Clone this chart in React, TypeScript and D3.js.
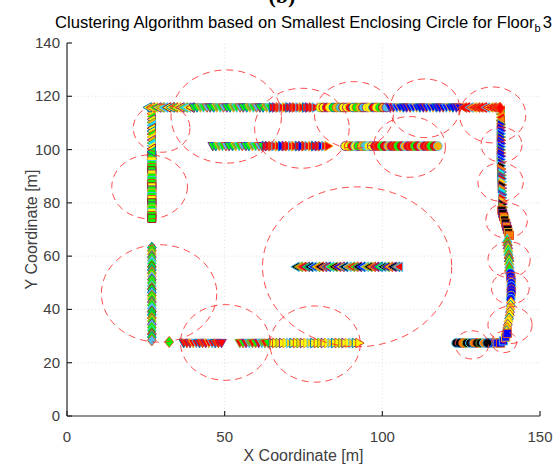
import React from 'react';
import * as d3 from 'd3';

const W = 559;
const H = 468;

// ---------- axes ----------
const xDomain = [0, 150];
const yDomain = [0, 140];
const xTicks = [0, 50, 100, 150];
const yTicks = [0, 20, 40, 60, 80, 100, 120, 140];

// ---------- data (metres) ----------
const yTopRow = 115.8;
const ySecondRow = 101.3;
const yMiddleRow = 56.0;
const yBottomRow = 27.4;
const xLeftCol = 26.9;
const xRightTop = 137.6;

// top-left corner '<' cluster
const tlTopX = [25.6, 26.6, 27.6, 28.7, 29.7, 30.8, 31.8, 32.9, 33.9, 35.0, 36.0, 37.1, 38.1, 39.2];
const tlColY = [114.6, 113.5, 112.4, 111.3, 110.2, 109.1, 108.0, 106.9, 105.8, 104.7, 103.6, 102.5, 101.4, 100.3, 99.2];
// green 'v' cluster
const gvTopX = [40.2, 41.2, 42.3, 43.3, 44.4, 45.4, 46.5, 47.5, 48.6, 49.6, 50.7, 51.7, 52.8, 53.8, 54.9, 55.9, 57.0, 58.0, 59.1, 60.1, 61.2, 62.2, 63.3, 64.3];
const gvSecondX = [46.2, 47.2, 48.3, 49.3, 50.4, 51.4, 52.5, 53.5, 54.6, 55.6, 56.7, 57.7, 58.8, 59.8, 60.9, 61.9];
// red '>' cluster
const rtTopX = [65.3, 66.3, 67.4, 68.4, 69.5, 70.5, 71.6, 72.6, 73.7, 74.7, 75.8, 76.8, 77.9, 78.9];
const rtSecondX = [63.0, 64.0, 65.1, 66.1, 67.2, 68.2, 69.3, 70.3, 71.4, 72.4, 73.5, 74.5, 75.6, 76.6, 77.7, 78.7, 79.8, 80.8, 81.9, 82.9];
// circle clusters
const ocTopX = [80.3, 81.3, 82.4, 83.4, 84.5, 85.5, 86.6, 87.6, 88.7, 89.7, 90.8, 91.8, 92.9, 93.9, 95.0, 96.0, 97.1, 98.1, 99.2, 100.2, 101.3];
const ocSecondX = [88.2, 89.3, 90.3, 91.4, 92.4, 93.5, 94.5, 95.6, 96.6];
const ocRedX = [97.7, 98.7, 99.8, 100.8, 101.9, 102.9, 104.0, 105.0, 106.1, 107.1, 108.2, 109.2, 110.3, 111.3, 112.4, 113.4, 114.5, 115.5, 116.6, 117.6];
// blue 'v' cluster
const bvTopX = [102.5, 103.5, 104.6, 105.6, 106.7, 107.7, 108.8, 109.8, 110.9, 111.9, 113.0, 114.0, 115.1, 116.1, 117.2, 118.2, 119.3, 120.3, 121.4, 122.4, 123.5, 124.5];
// red '<' top right
const rlTopX = [125.6, 126.6, 127.7, 128.7, 129.8, 130.8, 131.9, 132.9, 134.0, 135.0, 136.1];
const rlColY = [114.5, 113.3, 112.1, 110.9];
const cornerX = [137.4];
const cornerY = [115.6];
// right column
const rbColY = [109.5, 108.3, 107.1, 105.9, 104.7, 103.5, 102.3, 101.1, 99.9, 98.7, 97.5, 96.3, 95.1];
const rmColY = [93.9, 92.7, 91.5, 90.3, 89.1, 87.9, 86.7, 85.5, 84.3, 83.1, 81.9, 80.7, 79.5, 78.3];
const rmColX = [137.7, 137.7, 137.8, 137.8, 137.8, 137.9, 137.9, 137.9, 138.0, 138.0, 138.0, 138.1, 138.1, 138.2];
const ksY = [77.2, 76.0, 74.8, 73.6, 72.4, 71.2, 70.0, 68.8, 67.8];
const ksX = [137.9, 138.2, 138.5, 138.8, 139.1, 139.4, 139.7, 140.0, 140.3];
const gtY = [66.5, 65.3, 64.1, 62.9, 61.7, 60.5, 59.3, 58.1, 56.9, 55.7];
const gtX = [139.6, 139.7, 139.8, 139.9, 140.0, 140.1, 140.2, 140.2, 140.3, 140.3];
const bcY = [53.6, 52.4, 51.2, 50.0, 48.8, 47.6, 46.4, 45.2, 44.0];
const bcX = [140.6, 140.7, 140.8, 140.9, 140.9, 140.9, 140.9, 140.8, 140.7];
const ydY = [42.6, 41.4, 40.2, 39.0, 37.8, 36.6, 35.4, 34.2, 33.0, 31.8];
const ydX = [140.8, 140.7, 140.6, 140.5, 140.4, 140.2, 140.0, 139.8, 139.6, 139.4];
const bsX = [134.2, 135.3, 136.4, 137.5, 138.4, 139.1, 139.6];
const bsY = [27.4, 27.4, 27.4, 27.4, 28.2, 29.6, 31.0];
const kcX = [123.4, 124.5, 125.6, 126.7, 127.8, 128.9, 130.0, 131.1, 132.2, 133.3];
// left column
const lsY = [98.0, 96.8, 95.6, 94.4, 93.2, 92.0, 90.8, 89.6, 88.4, 87.2, 86.0, 84.8, 83.6, 82.4, 81.2, 80.0, 78.8, 77.6, 76.4, 75.2, 74.2];
const ldY = [63.2, 62.0, 60.8, 59.6, 58.4, 57.2, 56.0, 54.8, 53.6, 52.4, 51.2, 50.0, 48.8, 47.6, 46.4, 45.2, 44.0, 42.8, 41.6, 40.4, 39.2, 38.0, 36.8, 35.6, 34.4, 33.2, 32.0, 30.8, 29.6, 28.4];
const loneDiamondX = [32.4];
const loneDiamondY = [27.8];
// bottom row
const brvX = [37.0, 38.0, 39.0, 40.0, 41.0, 42.0, 43.0, 44.0, 45.0, 46.0, 47.0, 48.0, 49.0];
const brv2X = [54.8, 55.8, 56.8, 57.8, 58.8, 59.8, 60.8, 61.8, 62.8, 63.8];
const byX = [65.2, 66.3, 67.4, 68.5, 69.6, 70.7, 71.8, 72.9, 74.0, 75.1, 76.2, 77.3, 78.4, 79.5, 80.6, 81.7, 82.8, 83.9, 85.0, 86.1, 87.2, 88.3, 89.4, 90.5, 91.6, 92.7];
// middle row
const mdX = [72.5, 73.6, 74.7, 75.8, 76.9, 78.0, 79.1, 80.2, 81.3, 82.4, 83.5, 84.6, 85.7, 86.8, 87.9, 89.0, 90.1, 91.2, 92.3, 93.4, 94.5, 95.6, 96.7, 97.8, 98.9, 100.0, 101.1, 102.2, 103.3, 104.4, 105.3];

// smallest enclosing circles: centre x, centre y, radius
const circleCX = [30.0, 26.2, 29.2, 50.2, 78.7, 50.5, 74.5, 91.0, 113.5, 108.6, 135.0, 137.8, 137.5, 139.4, 140.2, 140.6, 140.5, 138.6, 128.4, 92.0];
const circleCY = [108.0, 86.0, 46.0, 27.6, 27.0, 112.4, 108.0, 113.0, 115.5, 101.0, 113.0, 101.8, 87.8, 73.4, 58.7, 48.0, 34.2, 27.8, 26.7, 56.0];
const circleR = [9.0, 12.0, 18.3, 14.2, 14.3, 17.5, 15.0, 12.5, 11.0, 11.4, 10.5, 6.5, 7.2, 6.6, 6.7, 6.0, 7.0, 4.0, 5.3, 30.0];

// ---------- colours ----------
const EDGES = ['#0072bd', '#d95319', '#edb120', '#7e2f8e', '#77ac30', '#4dbeee', '#a2142f'];
const faceYellowMix = ['#ffff00', '#ffff00', '#00ff00', '#ffff00', '#ffb000', '#00e5ff'];
const faceGreen = ['#00ff00', '#00ff00', '#77ac30', '#00ff00', '#4dbeee'];
const faceRed = ['#ff0000', '#ff0000', '#ff2000', '#ff0000'];
const faceCircleMix = ['#ffff00', '#ffff00', '#ff0000', '#ffff00', '#00ff00', '#ffb000', '#4dbeee'];
const faceBlue = ['#0000ff', '#0000ff', '#1010ff'];
const faceMulti = ['#000000', '#ff8000', '#00e5ff', '#7e2f8e', '#ff0000', '#ffd000'];
const faceBlack = ['#000000', '#000000', '#ff8000'];
const faceYellow = ['#ffff00', '#ffff00', '#ffd000'];
const faceRedGreen = ['#ff0000', '#00ff00', '#ff0000', '#77ac30'];
const faceMiddle = ['#000000', '#ff8000', '#ff0000', '#00ff00', '#000000', '#0000ff', '#ffb000'];

type Pt = [number, number];
const row = (xs: number[], y: number): Pt[] => xs.map((v) => [v, y]);
const col = (ys: number[], x: number): Pt[] => ys.map((v) => [x, v]);
const zip = (xs: number[], ys: number[]): Pt[] => xs.map((v, i) => [v, ys[i]]);

interface Group { shape: string; pts: Pt[]; faces: string[]; edges: string[] }

const groups: Group[] = [
  { shape: 'd', pts: col(ldY, xLeftCol), faces: faceGreen, edges: EDGES },
  { shape: 'd', pts: zip(loneDiamondX, loneDiamondY), faces: ['#00ff00'], edges: ['#d95319'] },
  { shape: 's', pts: col(lsY, xLeftCol), faces: ['#00ff00', '#00ff00', '#ffff00', '#00ff00'], edges: ['#a2142f', '#7e2f8e', '#edb120', '#4dbeee', '#d95319'] },
  { shape: '<', pts: col(tlColY, xLeftCol), faces: faceYellowMix, edges: EDGES },
  { shape: '<', pts: row(tlTopX, yTopRow), faces: faceYellowMix, edges: EDGES },
  { shape: 'v', pts: row(gvTopX, yTopRow), faces: faceGreen, edges: ['#7e2f8e', '#0072bd', '#edb120', '#4dbeee', '#d95319'] },
  { shape: 'v', pts: row(gvSecondX, ySecondRow), faces: faceGreen, edges: ['#7e2f8e', '#0072bd', '#edb120', '#4dbeee', '#d95319'] },
  { shape: '>', pts: row(rtTopX, yTopRow), faces: faceRed, edges: ['#0072bd', '#7e2f8e', '#d95319', '#4dbeee', '#edb120'] },
  { shape: '>', pts: row(rtSecondX, ySecondRow), faces: [...faceRed, '#ff0000', '#0000ff'], edges: ['#0072bd', '#7e2f8e', '#d95319', '#4dbeee', '#edb120'] },
  { shape: 'o', pts: row(ocTopX, yTopRow), faces: faceCircleMix, edges: ['#77ac30', '#a2142f', '#7e2f8e', '#edb120', '#0072bd', '#d95319'] },
  { shape: 'o', pts: row(ocSecondX, ySecondRow), faces: faceCircleMix, edges: ['#7e2f8e', '#d95319', '#77ac30', '#4dbeee'] },
  { shape: 'o', pts: row(ocRedX, ySecondRow), faces: ['#ff0000', '#ff0000', '#00ff00', '#ff0000', '#ffb000'], edges: ['#7e2f8e', '#d95319', '#77ac30', '#a2142f', '#4dbeee'] },
  { shape: 'v', pts: row(bvTopX, yTopRow), faces: faceBlue, edges: ['#7e2f8e', '#d95319', '#4dbeee', '#edb120', '#0072bd'] },
  { shape: '<', pts: row(rlTopX, yTopRow), faces: faceRed, edges: ['#d95319', '#ff0000', '#4dbeee', '#edb120', '#d95319'] },
  { shape: '<', pts: col(rlColY, xRightTop), faces: ['#ff0000', '#ff8000'], edges: ['#d95319', '#77ac30', '#edb120'] },
  { shape: 'd', pts: zip(cornerX, cornerY), faces: ['#ff0000'], edges: ['#ff3000'] },
  { shape: '>', pts: col(rbColY, xRightTop), faces: faceBlue, edges: ['#77ac30', '#d95319', '#7e2f8e', '#4dbeee'] },
  { shape: '>', pts: zip(rmColX, rmColY), faces: faceMulti, edges: ['#4dbeee', '#d95319', '#7e2f8e', '#77ac30', '#0072bd'] },
  { shape: 's', pts: zip(ksX, ksY), faces: faceBlack, edges: ['#d95319', '#7e2f8e', '#a2142f', '#edb120'] },
  { shape: '^', pts: zip(gtX, gtY), faces: ['#00ff00', '#00ff00', '#77ac30'], edges: ['#4dbeee', '#d95319', '#7e2f8e', '#edb120'] },
  { shape: 'o', pts: zip(bcX, bcY), faces: faceBlue, edges: ['#4dbeee', '#d95319', '#7e2f8e', '#edb120'] },
  { shape: 'd', pts: zip(ydX, ydY), faces: faceYellow, edges: ['#d95319', '#0072bd', '#edb120', '#7e2f8e'] },
  { shape: 's', pts: zip(bsX, bsY), faces: faceBlue, edges: ['#d95319', '#4dbeee', '#edb120'] },
  { shape: 'o', pts: row(kcX, yBottomRow), faces: faceBlack, edges: ['#4dbeee', '#0072bd', '#d95319', '#77ac30'] },
  { shape: 'v', pts: row(brvX, yBottomRow), faces: faceRed, edges: ['#0072bd', '#d95319', '#7e2f8e', '#edb120', '#4dbeee'] },
  { shape: 'v', pts: row(brv2X, yBottomRow), faces: faceRedGreen, edges: ['#77ac30', '#d95319', '#7e2f8e', '#4dbeee'] },
  { shape: '>', pts: row(byX, yBottomRow), faces: faceYellow, edges: ['#0072bd', '#d95319', '#77ac30', '#7e2f8e', '#edb120', '#4dbeee'] },
  { shape: '<', pts: row(mdX, yMiddleRow), faces: faceMiddle, edges: ['#4dbeee', '#77ac30', '#d95319', '#7e2f8e', '#0072bd'] },
];

const h = 4.8;
const shapePath = (s: string): string => {
  switch (s) {
    case '^': return `M0,${-h}L${h},${h * 0.75}L${-h},${h * 0.75}Z`;
    case 'v': return `M0,${h}L${h},${-h * 0.75}L${-h},${-h * 0.75}Z`;
    case '<': return `M${-h},0L${h * 0.75},${-h}L${h * 0.75},${h}Z`;
    case '>': return `M${h},0L${-h * 0.75},${-h}L${-h * 0.75},${h}Z`;
    case 's': return 'M-4.1,-4.1H4.1V4.1H-4.1Z';
    case 'd': return 'M0,-5.5L4.4,0L0,5.5L-4.4,0Z';
    default: return d3.symbol(d3.symbolCircle, 60)() || '';
  }
};

const FONT = "'Liberation Sans', Arial, Helvetica, sans-serif";

export default function App() {
  const x = d3.scaleLinear().domain(xDomain).range([67, 540]);
  const y = d3.scaleLinear().domain(yDomain).range([416, 43]);
  const [x0, x1] = x.range();
  const [y0, y1] = y.range();

  return (
    <svg width={W} height={H} style={{ position: 'absolute', left: 0, top: 0, background: '#fff' }} fontFamily={FONT}>
      <rect width={W} height={H} fill="#fff" />
      <text x={282} y={3} textAnchor="middle" fontFamily="'Liberation Serif', 'Times New Roman', serif" fontWeight="bold" fontSize={22} fill="#000">(b)</text>
      {/* grid */}
      <g stroke="#d8d8d8" strokeWidth={0.8} strokeDasharray="1,2.5">
        {xTicks.filter((t) => t > xDomain[0] && t < xDomain[1]).map((t) => (
          <line key={'gx' + t} x1={x(t)} x2={x(t)} y1={y0} y2={y1} />
        ))}
        {yTicks.filter((t) => t > yDomain[0] && t < yDomain[1]).map((t) => (
          <line key={'gy' + t} x1={x0} x2={x1} y1={y(t)} y2={y(t)} />
        ))}
      </g>
      {/* markers */}
      <g strokeWidth={1}>
        {groups.map((g, gi) =>
          g.pts.map((p, i) => (
            <path
              key={gi + '-' + i}
              d={shapePath(g.shape)}
              transform={`translate(${x(p[0])},${y(p[1])})`}
              fill={g.faces[i % g.faces.length]}
              stroke={g.edges[i % g.edges.length]}
            />
          ))
        )}
      </g>
      {/* enclosing circles */}
      <g fill="none" stroke="#ff2a2a" strokeOpacity={0.85} strokeWidth={1} strokeDasharray="7,5">
        {circleCX.map((cx, i) => (
          <ellipse
            key={'c' + i}
            cx={x(cx)}
            cy={y(circleCY[i])}
            rx={x(cx + circleR[i]) - x(cx)}
            ry={y(circleCY[i]) - y(circleCY[i] + circleR[i])}
          />
        ))}
      </g>
      {/* axes */}
      <g stroke="#262626" strokeWidth={1.2} fill="none">
        <line x1={x0} x2={x1} y1={y0} y2={y0} />
        <line x1={x0} x2={x0} y1={y0} y2={y1} />
        {xTicks.map((t) => <line key={'tx' + t} x1={x(t)} x2={x(t)} y1={y0} y2={y0 - 5} />)}
        {yTicks.map((t) => <line key={'ty' + t} x1={x0} x2={x0 + 5} y1={y(t)} y2={y(t)} />)}
      </g>
      <g fill="#404040" fontSize={15}>
        {xTicks.map((t) => (
          <text key={'lx' + t} x={x(t)} y={y0 + 26} textAnchor="middle">{t}</text>
        ))}
        {yTicks.map((t) => (
          <text key={'ly' + t} x={x0 - 7} y={y(t) + 5} textAnchor="end">{t}</text>
        ))}
      </g>
      <text x={(x0 + x1) / 2} y={461} textAnchor="middle" fontSize={16} fill="#404040">X Coordinate [m]</text>
      <text transform={`translate(37,${(y0 + y1) / 2}) rotate(-90)`} textAnchor="middle" fontSize={16} fill="#404040">Y Coordinate [m]</text>
      <text x={(x0 + x1) / 2} y={28} textAnchor="middle" fontSize={16.6} fill="#000">
        Clustering Algorithm based on Smallest Enclosing Circle for Floor
        <tspan fontSize={11} dy={4}>b</tspan>
        <tspan dy={-4} dx={2}>3</tspan>
      </text>
    </svg>
  );
}
